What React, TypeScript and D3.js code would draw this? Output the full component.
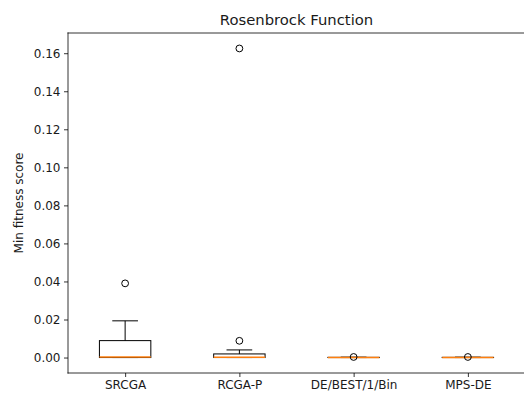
import { useEffect, useRef } from 'react'
import * as d3 from 'd3'

// box statistics
const categories = ['SRCGA', 'RCGA-P', 'DE/BEST/1/Bin', 'MPS-DE']
const whiskerLow = [0, 0, 0, 0]
const q1 = [0.0, 0.0, 0.0, 0.0]
const medians = [0.0003, 0.0002, 0.00005, 0.00005]
const q3 = [0.0089, 0.0019, 0.0001, 0.0001]
const whiskerHigh = [0.0193, 0.004, 0.0002, 0.0002]
const outliers = [[0.039], [0.0088, 0.1625], [0.0003], [0.0003]]
const yTicks = [0, 0.02, 0.04, 0.06, 0.08, 0.1, 0.12, 0.14, 0.16]

function App() {
  const ref = useRef<SVGSVGElement>(null)

  useEffect(() => {
    const width = 524
    const height = 401
    const margin = { top: 33, right: -1, bottom: 28, left: 68 }
    const font = 'DejaVu Sans, sans-serif'

    const svg = d3.select(ref.current)
    svg.selectAll('*').remove()

    const x = d3.scaleLinear()
      .domain([0.5, categories.length + 0.5])
      .range([margin.left, width - margin.right])

    const maxV = d3.max(outliers.flat().concat(whiskerHigh)) as number
    const pad = maxV * 0.05
    const y = d3.scaleLinear()
      .domain([-pad, maxV + pad])
      .range([height - margin.bottom, margin.top])

    const g = svg.append('g')

    const boxW = x(1.45) - x(1)
    const capW = boxW / 2

    categories.forEach((c, i) => {
      const cx = x(i + 1)
      // whiskers
      g.append('line').attr('x1', cx).attr('x2', cx)
        .attr('y1', y(q3[i])).attr('y2', y(whiskerHigh[i]))
        .attr('stroke', '#000').attr('stroke-width', 1)
      g.append('line').attr('x1', cx).attr('x2', cx)
        .attr('y1', y(q1[i])).attr('y2', y(whiskerLow[i]))
        .attr('stroke', '#000').attr('stroke-width', 1)
      // caps
      ;[whiskerHigh[i], whiskerLow[i]].forEach(v => {
        g.append('line').attr('x1', cx - capW / 2).attr('x2', cx + capW / 2)
          .attr('y1', y(v)).attr('y2', y(v))
          .attr('stroke', '#000').attr('stroke-width', 1)
      })
      // box
      g.append('rect')
        .attr('x', cx - boxW / 2).attr('width', boxW)
        .attr('y', y(q3[i])).attr('height', Math.max(0, y(q1[i]) - y(q3[i])))
        .attr('fill', 'none').attr('stroke', '#000').attr('stroke-width', 1)
      // median
      g.append('line').attr('x1', cx - boxW / 2).attr('x2', cx + boxW / 2)
        .attr('y1', y(medians[i])).attr('y2', y(medians[i]))
        .attr('stroke', '#ff7f0e').attr('stroke-width', 1.5)
      // fliers
      outliers[i].forEach(v => {
        g.append('circle').attr('cx', cx).attr('cy', y(v)).attr('r', 3.4)
          .attr('fill', 'none').attr('stroke', '#000').attr('stroke-width', 1)
      })
    })

    // axes
    const yAxis = svg.append('g')
      .attr('transform', `translate(${margin.left},0)`)
      .call(d3.axisLeft(y).tickValues(yTicks).tickFormat(d3.format('.2f')).tickSize(4).tickPadding(3.5))
    const xAxis = svg.append('g')
      .attr('transform', `translate(0,${height - margin.bottom})`)
      .call(d3.axisBottom(x).tickValues(d3.range(1, categories.length + 1))
        .tickFormat((d) => categories[(d as number) - 1]).tickSize(4).tickPadding(3.5))
    ;[yAxis, xAxis].forEach(a => {
      a.select('.domain').remove()
      a.selectAll('text').style('font-family', font).style('font-size', '12px').attr('fill', '#1a1a1a')
      a.selectAll('line').attr('stroke', '#000').attr('stroke-width', 0.8)
    })

    // spines (right one falls outside the picture)
    const x0 = margin.left
    const x1 = width
    const yt = margin.top
    const yb = height - margin.bottom
    ;[[x0, yt, x1, yt], [x0, yb, x1, yb], [x0, yt, x0, yb]].forEach(([a, b, c, d]) => {
      svg.append('line').attr('x1', a).attr('y1', b).attr('x2', c).attr('y2', d)
        .attr('stroke', '#000').attr('stroke-width', 0.8).attr('stroke-linecap', 'square')
    })

    svg.append('text')
      .attr('x', (margin.left + width - margin.right) / 2).attr('y', 24.5)
      .attr('text-anchor', 'middle')
      .style('font-family', font).style('font-size', '14.8px')
      .attr('fill', '#1a1a1a')
      .text('Rosenbrock Function')

    svg.append('text')
      .attr('transform', `translate(23,${(margin.top + height - margin.bottom) / 2}) rotate(-90)`)
      .attr('text-anchor', 'middle')
      .style('font-family', font).style('font-size', '12px')
      .attr('fill', '#1a1a1a')
      .text('Min fitness score')
  }, [])

  return (
    <svg ref={ref} width={524} height={401}
      style={{ position: 'fixed', left: 0, top: 0, display: 'block', background: '#fff' }} />
  )
}

export default App
